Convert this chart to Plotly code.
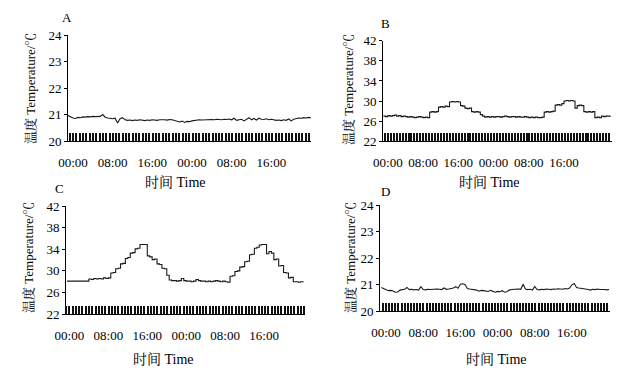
import plotly.graph_objects as go

# ---------------- data (hours, temperature in deg C) ----------------
tick_labels = ["00:00", "08:00", "16:00", "00:00", "08:00", "16:00"]
tick_hours = [0, 8, 16, 24, 32, 40]

start_A = -1.0
temp_A = [20.96, 20.90, 20.87, 20.85, 20.89, 20.88, 20.91, 20.90, 20.92, 20.91,
          20.93, 20.92, 20.92, 20.93, 21.00, 20.90, 20.87, 20.86, 20.84, 20.86,
          20.68, 20.84, 20.88, 20.80, 20.78, 20.79, 20.77, 20.79, 20.78, 20.80,
          20.78, 20.77, 20.79, 20.78, 20.80, 20.79, 20.78, 20.80, 20.81, 20.80,
          20.79, 20.81, 20.80, 20.78, 20.76, 20.72, 20.75, 20.70, 20.74, 20.73,
          20.76, 20.78, 20.79, 20.80, 20.79, 20.80, 20.81, 20.80, 20.81, 20.80,
          20.82, 20.81, 20.80, 20.82, 20.81, 20.83, 20.80, 20.86, 20.78, 20.80,
          20.82, 20.76, 20.83, 20.88, 20.80, 20.85, 20.79, 20.86, 20.82, 20.81,
          20.84, 20.80, 20.82, 20.80, 20.78, 20.79, 20.77, 20.80, 20.78, 20.83,
          20.76, 20.82, 20.85, 20.87, 20.86, 20.88, 20.87, 20.89, 20.88]

start_B = -1.0
temp_B = [27.0, 26.9, 27.1, 27.0, 27.1, 27.2, 27.0, 27.1, 26.9, 27.0,
          26.9, 26.8, 26.9, 26.8, 26.7, 26.8, 26.9, 26.8, 26.7, 26.8,
          26.7, 27.8, 27.9, 27.8, 27.9, 28.8, 28.9, 28.8, 29.0, 28.9,
          29.8, 29.9, 29.8, 29.9, 29.8, 29.1, 29.0, 28.6, 28.5, 28.6,
          27.9, 27.8, 27.9, 27.8, 27.3, 27.0, 26.8, 26.9, 26.8, 26.9,
          26.8, 26.9, 26.9, 26.8, 26.9, 27.0, 26.9, 26.8, 26.9, 26.9,
          26.8, 26.9, 26.8, 26.8, 26.9, 26.8, 26.7, 26.8, 26.7, 26.8,
          26.7, 26.7, 26.8, 27.8, 27.9, 27.8, 27.9, 28.0, 29.2, 29.3,
          29.2, 29.5, 30.0, 30.1, 30.0, 30.1, 30.0, 28.6, 29.1, 29.2,
          29.1, 27.9, 27.8, 27.9, 27.8, 27.9, 26.7, 26.8, 26.7, 27.0,
          26.9, 27.0, 27.0, 27.1]

start_C = -0.5
temp_C = [28.1, 28.1, 28.1, 28.1, 28.1, 28.1, 28.1, 28.1, 28.1, 28.5,
          28.4, 28.6, 28.5, 28.6, 28.5, 28.7, 28.6, 28.7, 29.6, 29.7,
          30.4, 30.5, 31.3, 31.4, 32.3, 32.5, 33.3, 33.4, 34.1, 34.2,
          34.9, 34.9, 34.9, 32.8, 32.6, 32.1, 32.2, 31.3, 31.2, 30.5,
          30.4, 29.2, 28.3, 28.2, 28.2, 28.1, 28.2, 28.6, 28.2, 28.1,
          28.1, 28.0, 28.1, 28.4, 28.2, 28.1, 28.1, 28.0, 28.1, 28.0,
          28.1, 28.2, 28.1, 28.0, 28.1, 28.0, 27.9, 29.0, 29.1, 29.9,
          30.0, 30.7, 30.8, 31.7, 31.8, 33.0, 33.1, 34.2, 34.4, 34.8,
          34.9, 34.9, 33.2, 33.6, 33.3, 32.1, 32.2, 30.9, 31.0, 29.7,
          29.6, 28.7, 28.8, 28.0, 28.0, 27.9, 28.0, 27.9]

start_D = -1.0
temp_D = [20.90, 20.86, 20.80, 20.78, 20.79, 20.77, 20.72, 20.73, 20.80, 20.82,
          20.83, 20.90, 20.82, 20.83, 20.81, 20.82, 20.80, 20.93, 20.82, 20.81,
          20.83, 20.82, 20.83, 20.82, 20.84, 20.83, 20.82, 20.88, 20.83, 20.84,
          20.85, 20.88, 20.93, 20.87, 21.02, 21.04, 21.01, 20.86, 20.84, 20.83,
          20.82, 20.80, 20.76, 20.79, 20.78, 20.77, 20.75, 20.79, 20.76, 20.72,
          20.75, 20.74, 20.78, 20.72, 20.74, 20.80, 20.82, 20.83, 20.82, 20.84,
          20.83, 21.02, 20.84, 20.82, 20.83, 20.80, 20.94, 20.82, 20.81, 20.83,
          20.82, 20.84, 20.83, 20.82, 20.84, 20.83, 20.85, 20.84, 20.83, 20.86,
          20.84, 20.88, 21.00, 21.05, 20.90, 20.88, 20.87, 20.86, 20.84, 20.82,
          20.80, 20.83, 20.82, 20.84, 20.82, 20.83, 20.82, 20.81, 20.82]

# ---------------- layout helpers ----------------
W, H = 622, 376
FONT = "Liberation Serif, Times New Roman, Noto Serif CJK SC, Noto Sans CJK SC, serif"
LINE = "#1a1a1a"

def px_x(p):
    return p / W

def px_y(p):
    return 1 - p / H

panels = [
    # name, start, temps, shape, x-domain px, y-domain px (top,bottom), xrange, yrange, dtick
    ("A", start_A, temp_A, "linear", (68, 311), (35, 141), [-1.0, 48.0], [20, 24], 1),
    ("B", start_B, temp_B, "hv", (383, 612), (40.7, 141.3), [-1.1, 50.9], [22, 42], 4),
    ("C", start_C, temp_C, "hv", (66, 305), (206.3, 314), [-0.7, 48.4], [22, 42], 4),
    ("D", start_D, temp_D, "linear", (380, 610), (205.3, 311.3), [-1.3, 48.2], [20, 24], 1),
]

# annotation positions (px): letter, x-title, y-title
ann_pos = {
    "A": ((67, 18), (175, 182), (30, 88)),
    "B": ((385, 24), (489, 182), (348, 90)),
    "C": ((60, 188), (163, 359), (28, 258)),
    "D": ((385, 191), (496, 359), (350, 258)),
}

fig = go.Figure()
annotations = []
layout = {}

for i, (name, start, temps, shape, xd, yd, xr, yr, dt) in enumerate(panels):
    n = i + 1
    xa = "x" if n == 1 else f"x{n}"
    ya = "y" if n == 1 else f"y{n}"
    times = [start + 0.5 * k for k in range(len(temps))]
    fig.add_trace(go.Scatter(x=times, y=temps, mode="lines", xaxis=xa, yaxis=ya,
                             line=dict(color=LINE, width=1.1, shape=shape),
                             showlegend=False, hoverinfo="skip"))
    xkey = "xaxis" if n == 1 else f"xaxis{n}"
    ykey = "yaxis" if n == 1 else f"yaxis{n}"
    layout[xkey] = dict(
        domain=[px_x(xd[0]), px_x(xd[1])], range=xr, anchor=ya,
        automargin=False,
        tickmode="array", tickvals=tick_hours, ticktext=tick_labels,
        ticks="", showgrid=False, zeroline=False,
        showline=True, linecolor="black", linewidth=1,
        ticklabelstandoff=9,
        tickfont=dict(family=FONT, size=13, color="black"),
        minor=dict(ticks="inside", ticklen=8, tickwidth=2, tickcolor="#111",
                   tickmode="linear", tick0=0, dtick=0.67, showgrid=False),
    )
    layout[ykey] = dict(
        domain=[px_y(yd[1]), px_y(yd[0])], range=yr, anchor=xa,
        automargin=False,
        tickmode="linear", tick0=yr[0], dtick=dt,
        ticks="outside", ticklen=3, tickcolor="black",
        showgrid=False, zeroline=False,
        showline=True, linecolor="black", linewidth=1,
        tickfont=dict(family=FONT, size=13, color="black"),
    )
    (lx, ly), (tx, ty), (yx, yy) = ann_pos[name]
    annotations.append(dict(x=px_x(lx), y=px_y(ly), xref="paper", yref="paper",
                            text=name, showarrow=False, xanchor="center", yanchor="middle",
                            font=dict(family=FONT, size=13, color="black")))
    annotations.append(dict(x=px_x(tx), y=px_y(ty), xref="paper", yref="paper",
                            text="时间 Time", showarrow=False, xanchor="center", yanchor="middle",
                            font=dict(family=FONT, size=14, color="black")))
    annotations.append(dict(x=px_x(yx), y=px_y(yy), xref="paper", yref="paper",
                            text="温度 Temperature/℃", showarrow=False, textangle=-90,
                            xanchor="center", yanchor="middle",
                            font=dict(family=FONT, size=13, color="black")))

fig.update_layout(
    width=W, height=H,
    margin=dict(l=0, r=0, t=0, b=0, pad=0, autoexpand=False),
    paper_bgcolor="white", plot_bgcolor="white",
    annotations=annotations,
    showlegend=False,
    **layout,
)

fig.write_html("out.html",
               config={"displayModeBar": False, "staticPlot": True},
               post_script="document.body.style.margin='0px';document.body.style.padding='0px';")
